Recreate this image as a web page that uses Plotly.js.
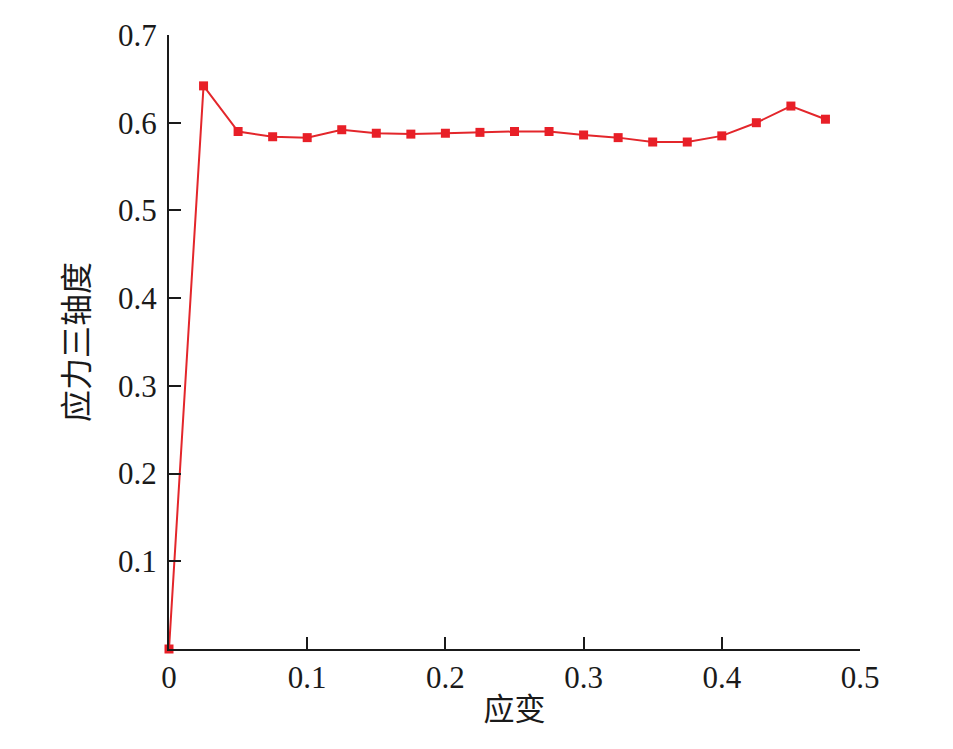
<!DOCTYPE html>
<html>
<head>
<meta charset="utf-8">
<script src="https://cdn.plot.ly/plotly-3.0.1.min.js"></script>
<style>html,body{margin:0;padding:0;background:#fff;}#chart{width:953px;height:749px;}</style>
</head>
<body>
<div id="chart"></div>
<script>
const strain = [0, 0.025, 0.05, 0.075, 0.1, 0.125, 0.15, 0.175, 0.2, 0.225, 0.25, 0.275, 0.3, 0.325, 0.35, 0.375, 0.4, 0.425, 0.45, 0.475];
const triaxiality = [0, 0.642, 0.590, 0.584, 0.583, 0.592, 0.588, 0.587, 0.588, 0.589, 0.590, 0.590, 0.586, 0.583, 0.578, 0.578, 0.585, 0.600, 0.619, 0.604];
const xTickVals = [0, 0.1, 0.2, 0.3, 0.4, 0.5];
const xTickText = ['0', '0.1', '0.2', '0.3', '0.4', '0.5'];
const yTickVals = [0.1, 0.2, 0.3, 0.4, 0.5, 0.6, 0.7];
const yTickText = ['0.1', '0.2', '0.3', '0.4', '0.5', '0.6', '0.7'];
const xTitle = '应变';
const yTitle = '应力三轴度';

const serif = 'Liberation Serif';
const cjk = 'Noto Sans CJK SC';

Plotly.newPlot('chart', [{
  x: strain, y: triaxiality,
  type: 'scatter', mode: 'lines+markers',
  line: {color: '#e3262b', width: 2},
  marker: {symbol: 'square', size: 9, color: '#e81f27'},
  cliponaxis: false
}], {
  width: 953, height: 749,
  margin: {l: 169, r: 93, t: 35, b: 100},
  paper_bgcolor: '#fff', plot_bgcolor: '#fff',
  showlegend: false,
  font: {family: serif, color: '#1a1a1a', size: 30},
  xaxis: {
    range: [0, 0.5], tickvals: xTickVals, ticktext: xTickText,
    showline: true, linecolor: '#1a1a1a', linewidth: 2,
    ticks: 'inside', ticklen: 12, tickwidth: 2, tickcolor: '#1a1a1a',
    showgrid: false, zeroline: false,
    tickfont: {family: serif, size: 31, color: '#1a1a1a'},
    title: {text: xTitle, font: {family: cjk, size: 31, color: '#1a1a1a'}, standoff: 4}
  },
  yaxis: {
    range: [0, 0.7], tickvals: yTickVals, ticktext: yTickText,
    showline: true, linecolor: '#1a1a1a', linewidth: 2,
    ticks: 'inside', ticklen: 12, tickwidth: 2, tickcolor: '#1a1a1a',
    showgrid: false, zeroline: false,
    ticklabelstandoff: 4,
    tickfont: {family: serif, size: 31, color: '#1a1a1a'},
    title: {text: yTitle, font: {family: cjk, size: 32, color: '#1a1a1a'}, standoff: 20}
  }
}, {displayModeBar: false, staticPlot: true});
</script>
</body>
</html>
